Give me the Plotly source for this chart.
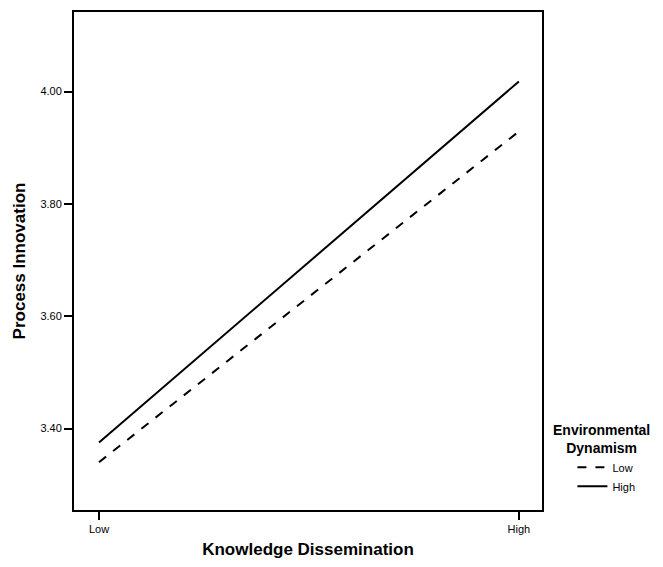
import plotly.graph_objects as go

x_labels = ["Low", "High"]
x_vals = [0, 1]
low_dyn = [3.340, 3.929]
high_dyn = [3.375, 4.018]
y_ticks = [3.40, 3.60, 3.80, 4.00]

fig = go.Figure()
fig.add_trace(go.Scatter(x=x_vals, y=low_dyn, mode="lines", name="Low",
                         line=dict(color="black", width=2, dash="dash")))
fig.add_trace(go.Scatter(x=x_vals, y=high_dyn, mode="lines", name="High",
                         line=dict(color="black", width=2)))

fig.add_annotation(
    text="<b>Environmental<br>Dynamism</b>", xref="paper", yref="paper",
    x=1.128, y=0.142, xanchor="center", yanchor="middle", showarrow=False,
    align="center", font=dict(size=14, family="Liberation Sans, Arial", color="black"),
)

fig.update_layout(
    width=655, height=551,
    margin=dict(l=66, r=121, t=2, b=48),
    paper_bgcolor="white", plot_bgcolor="white",
    font=dict(family="Liberation Sans, Arial", color="black"),
    showlegend=True,
    legend=dict(
        x=1.065, xanchor="left", y=0.115, yanchor="top",
        font=dict(size=11), itemwidth=30, tracegroupgap=0,
        bgcolor="rgba(0,0,0,0)",
    ),
    xaxis=dict(
        range=[-0.0595, 1.055], tickvals=x_vals, ticktext=x_labels,
        showgrid=False, zeroline=False, showline=True, linecolor="black",
        linewidth=2, mirror=True, ticks="outside", ticklen=8, tickwidth=2,
        tickcolor="black", tickfont=dict(size=11),
        title=dict(text="<b>Knowledge Dissemination</b>", font=dict(size=17), standoff=10),
    ),
    yaxis=dict(
        range=[3.2549, 4.1416], tickvals=y_ticks,
        ticktext=[f"{v:.2f}" for v in y_ticks],
        showgrid=False, zeroline=False, showline=True, linecolor="black",
        linewidth=2, mirror=True, ticks="outside", ticklen=8, tickwidth=2,
        tickcolor="black", tickfont=dict(size=11),
        title=dict(text="<b>Process Innovation</b>", font=dict(size=17), standoff=10),
    ),
)

fig.write_html("out.html")
